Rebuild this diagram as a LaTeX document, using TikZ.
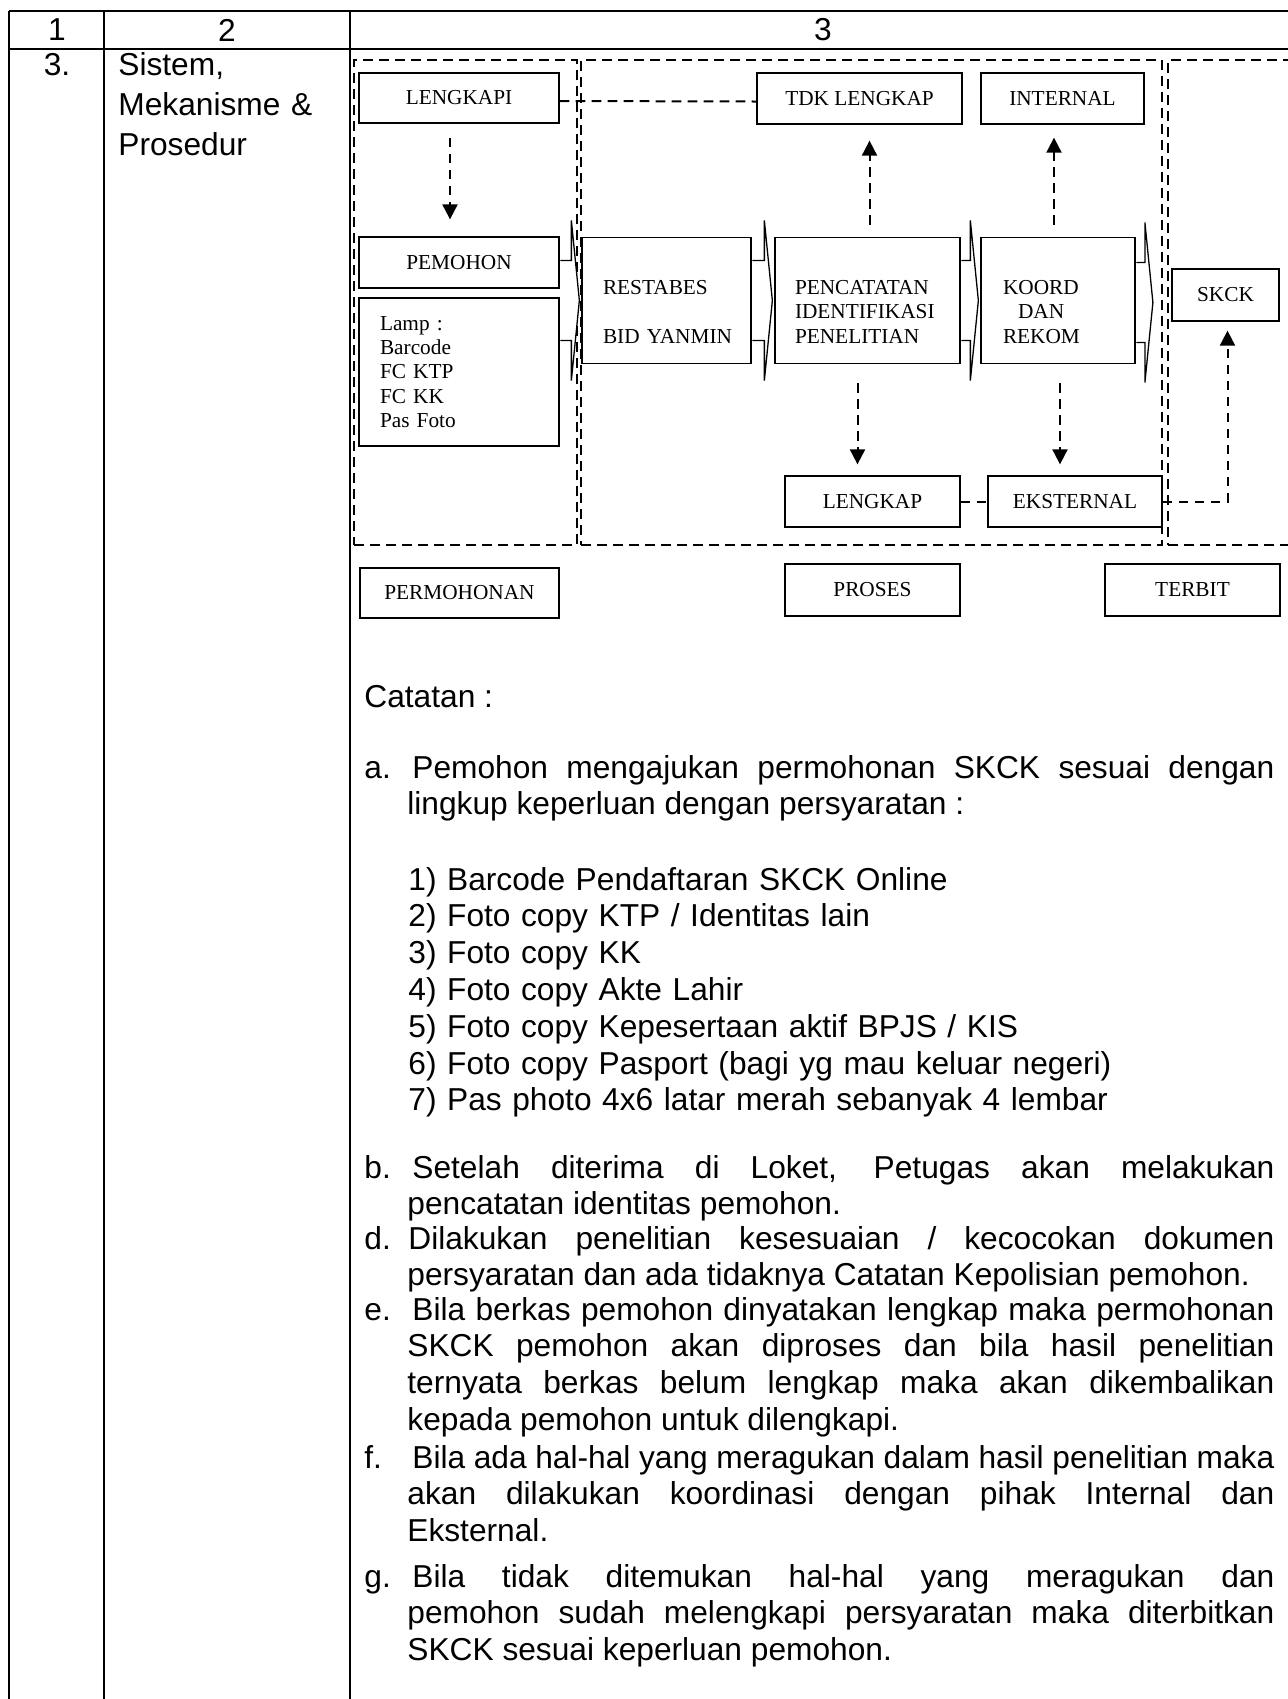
\documentclass[tikz,border=0pt]{standalone}
\usepackage{fontspec}
\setmainfont{Liberation Sans}
\newfontfamily\labelfont{Liberation Serif}
\usetikzlibrary{arrows.meta, calc, positioning}
\tolerance=9999
\hyphenpenalty=10000
\exhyphenpenalty=10000
\hbadness=10000
\hfuzz=20pt

\begin{document}
\begin{tikzpicture}[x=0.5pt, y=-0.5pt,
		rule/.style={line width=0.75pt},
		box/.style={draw, fill=white, line width=0.65pt, inner sep=0pt, font=\labelfont\fontsize{10.65pt}{12.15pt}\selectfont},
		zone/.style={draw, line width=1.1pt, dash pattern=on 5pt off 3pt, inner sep=0pt, minimum height=242.5pt},
		flow/.style={line width=1pt, dash pattern=on 4.8pt off 3.2pt, -{Triangle[length=7.5pt, width=7.5pt]}},
		link/.style={line width=1pt, dash pattern=on 4.8pt off 3.2pt},
		chevron/.style={draw, fill=white, line width=0.65pt, to path={
			($(\tikztostart.east |- \tikztotarget.west)+(0.7,-40)$) -- ($(\tikztotarget.west)+(-#1-8,-40)$)
			-- ($(\tikztotarget.west)+(-#1-8,-80)$) -- ($(\tikztotarget.west)+(-#1,0)$)
			-- ($(\tikztotarget.west)+(-#1-8,80)$) -- ($(\tikztotarget.west)+(-#1-8,40)$)
			-- ($(\tikztostart.east |- \tikztotarget.west)+(0.7,40)$)}},
		chevron/.default=2,
		txt/.style={font=\fontsize{15.85pt}{18.4pt}\selectfont},
		body/.style={txt, anchor=base west, inner sep=0pt, text width=455pt, align=justify},
	]
	\useasboundingbox (0,0) rectangle (1288,1699);
	
	% Table
	\draw[rule] (9,11) -- (1300,11);
	\draw[rule] (9,49) -- (1300,49);
	\draw[rule] (9,11) -- (9,1710);
	\draw[rule] (104,11) -- (104,1710);
	\draw[rule] (350,11) -- (350,1710);
	\node[txt] (col1) at (57,30) {1};
	\node[txt] (col2) at (227,30) {2};
	\node[txt] (col3) at (823,30) {3};
	\node[txt, anchor=base] (nomor) at (57,75) {3.};
	\node[txt, anchor=base west, inner sep=0pt, text width=115pt, align=left, font=\fontsize{15.85pt}{20pt}\selectfont] (uraian) at (118,75) {Sistem,\\Mekanisme \&\\Prosedur};
	
	% Zones
	\node[zone, minimum width=111.5pt] (zmohon) at (465.5,302.5) {};
	\node[zone, minimum width=290.5pt] (zproses) at (871.5,302.5) {};
	\node[zone, minimum width=66pt] (zterbit) at (1234,302.5) {};
	
	% Boxes
	\node[box, minimum width=100pt, minimum height=25pt] (lengkapi) at (459,98) {LENGKAPI};
	\node[box, minimum width=102.5pt, minimum height=25.5pt] (tdk) at (859.5,98.5) {TDK LENGKAP};
	\node[box, minimum width=81.5pt, minimum height=25.5pt] (internal) at (1062.5,98.5) {INTERNAL};
	\node[box, minimum width=100pt, minimum height=25.5pt] (pemohon) at (459,262.5) {PEMOHON};
	\node[box, minimum width=100pt, minimum height=74pt, text width=79pt, align=left] (lamp) at (459,372) {Lamp :\\Barcode\\FC KTP\\FC KK\\Pas Foto};
	\node[box, minimum width=84.5pt, minimum height=63pt, text width=63.5pt, align=left, text height=18.3pt] (restabes) at (666.5,300.5) {RESTABES\\[12.15pt]BID~YANMIN};
	\node[box, minimum width=92.5pt, minimum height=63pt, text width=72.5pt, align=left, text height=18.3pt] (pencatatan) at (867.5,300.5) {PENCATATAN\\IDENTIFIKASI\\PENELITIAN};
	\node[box, minimum width=77pt, minimum height=63pt, text width=55pt, align=left, text height=18.3pt] (koord) at (1058,300.5) {KOORD\\\hspace*{7.5pt}DAN\\REKOM};
	\node[box, minimum width=53.5pt, minimum height=26pt] (skck) at (1225.5,295) {SKCK};
	\node[box, minimum width=87.5pt, minimum height=25.5pt] (lengkap) at (872.5,501.5) {LENGKAP};
	\node[box, minimum width=87pt, minimum height=25.5pt] (eksternal) at (1075,501.5) {EKSTERNAL};
	\node[box, minimum width=99.5pt, minimum height=25pt] (permohonan) at (459.5,593) {PERMOHONAN};
	\node[box, minimum width=87.5pt, minimum height=26pt] (proses) at (872.5,590) {PROSES};
	\node[box, minimum width=87.5pt, minimum height=26pt] (terbit) at (1192.5,590) {TERBIT};
	
	% Block arrows
	\draw[chevron] (pemohon) to (restabes);
	\draw[chevron] (restabes) to (pencatatan);
	\draw[chevron] (pencatatan) to (koord);
	\draw[chevron=14] (koord) to (zterbit);
	
	% Dashed flow
	\draw[link] ($(lengkapi.east)+(0,3)$) -- ($(tdk.west)+(0,3)$);
	\draw[flow] ($(lengkapi.south)+(-9,14)$) -- ($(pemohon.north)+(-9,-17)$);
	\draw[flow] ($(pencatatan.north)+(2,-12)$) -- ($(tdk.south -| pencatatan.north)+(2,16)$);
	\draw[flow] ($(koord.north)+(-4,-12)$) -- ($(internal.south -| koord.north)+(-4,13)$);
	\draw[flow] ($(pencatatan.south)+(-10,19)$) -- ($(lengkap.north -| pencatatan.south)+(-10,-11)$);
	\draw[flow] ($(koord.south)+(2,19)$) -- ($(eksternal.north -| koord.south)+(2,-11)$);
	\draw[link] (lengkap.east) -- (eksternal.west);
	\draw[flow] (eksternal.east) -| ($(skck.south)+(2,9)$);
	
	% Notes
	\node[body] (catatan) at (364,707) {Catatan :};
	\node[body] (notea) at (364,778) {\hangindent=21.5pt\hangafter=1\makebox[24pt][l]{a.}Pemohon mengajukan permohonan SKCK sesuai dengan\linebreak lingkup keperluan dengan persyaratan :\par};
	\node[body, text width=430pt, align=left] (syarat) at (408,890) {1) Barcode Pendaftaran SKCK Online\\2) Foto copy KTP / Identitas lain\\3) Foto copy KK\\4) Foto copy Akte Lahir\\5) Foto copy Kepesertaan aktif BPJS / KIS\\6) Foto copy Pasport (bagi yg mau keluar negeri)\\7) Pas photo 4x6 latar merah sebanyak 4 lembar};
	\node[body] (noteb) at (364,1178) {\hangindent=21.5pt\hangafter=1\makebox[24pt][l]{b.}Setelah diterima di Loket, Petugas akan melakukan\linebreak pencatatan identitas pemohon.\par};
	\node[body] (noted) at (364,1249) {\hangindent=21.5pt\hangafter=1\makebox[22pt][l]{d.}Dilakukan penelitian kesesuaian / kecocokan dokumen\linebreak persyaratan dan ada tidaknya Catatan Kepolisian pemohon.\par};
	\node[body] (notee) at (364,1320) {\hangindent=21.5pt\hangafter=1\makebox[24pt][l]{e.}Bila berkas pemohon dinyatakan lengkap maka permohonan\linebreak SKCK pemohon akan diproses dan bila hasil penelitian\linebreak ternyata berkas belum lengkap maka akan dikembalikan\linebreak kepada pemohon untuk dilengkapi.\par};
	\node[body] (notef) at (364,1468) {\hangindent=21.5pt\hangafter=1\makebox[24pt][l]{f.}Bila ada hal-hal yang meragukan dalam hasil penelitian maka\linebreak akan dilakukan koordinasi dengan pihak Internal dan\linebreak Eksternal.\par};
	\node[body] (noteg) at (364,1587) {\hangindent=21.5pt\hangafter=1\makebox[24pt][l]{g.}Bila tidak ditemukan hal-hal yang meragukan dan\linebreak pemohon sudah melengkapi persyaratan maka diterbitkan\linebreak SKCK sesuai keperluan pemohon.\par};
\end{tikzpicture}
\end{document}
